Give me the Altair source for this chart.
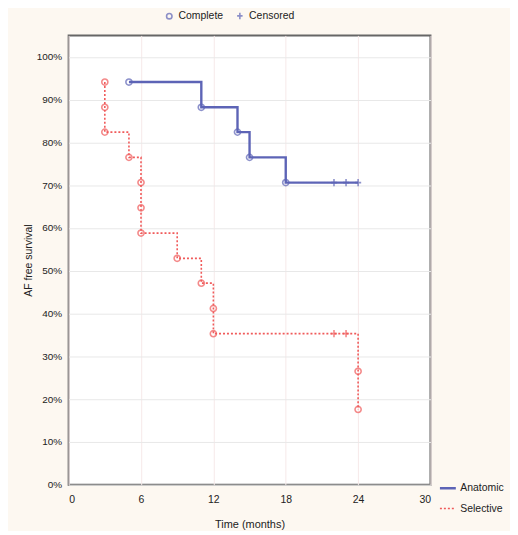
import altair as alt
import pandas as pd

# ---- data ----
groups = ["Anatomic", "Selective"]

anat_event_t = [5, 11, 14, 15, 18]
anat_event_s = [94.1, 88.2, 82.4, 76.5, 70.6]
anat_cens_t = [22, 23, 24]
anat_cens_s = [70.6, 70.6, 70.6]

sel_event_t = [3, 3, 3, 5, 6, 6, 6, 9, 11, 12, 12, 24, 24]
sel_event_s = [94.1, 88.2, 82.4, 76.5, 70.6, 64.7, 58.8, 52.9, 47.1, 41.2, 35.3, 26.5, 17.6]
sel_cens_t = [22, 23]
sel_cens_s = [35.3, 35.3]

x_ticks = [0, 6, 12, 18, 24, 30]
y_ticks = [0, 10, 20, 30, 40, 50, 60, 70, 80, 90, 100]

BLUE = "#5d64b6"
RED = "#f05a5a"
FONT = "Liberation Sans, Arial, sans-serif"

# ---- tables ----
line_rows = []
for i, (t, s) in enumerate(zip(anat_event_t + [anat_cens_t[-1]], anat_event_s + [anat_cens_s[-1]])):
    line_rows.append({"group": "Anatomic", "t": t, "s": s, "o": i})
for i, (t, s) in enumerate(zip(sel_event_t, sel_event_s)):
    line_rows.append({"group": "Selective", "t": t, "s": s, "o": i})
lines = pd.DataFrame(line_rows)

pt_rows = []
for t, s in zip(anat_event_t, anat_event_s):
    pt_rows.append({"group": "Anatomic", "t": t, "s": s, "type": "Complete"})
for t, s in zip(anat_cens_t, anat_cens_s):
    pt_rows.append({"group": "Anatomic", "t": t, "s": s, "type": "Censored"})
for t, s in zip(sel_event_t, sel_event_s):
    pt_rows.append({"group": "Selective", "t": t, "s": s, "type": "Complete"})
for t, s in zip(sel_cens_t, sel_cens_s):
    pt_rows.append({"group": "Selective", "t": t, "s": s, "type": "Censored"})
points = pd.DataFrame(pt_rows)

xenc = alt.X("t:Q", scale=alt.Scale(domain=[0, 30], nice=False),
             axis=alt.Axis(values=x_ticks, title="Time (months)", grid=True,
                           gridColor="#f6e9e9", ticks=False, domain=False,
                           labelPadding=10, titlePadding=14, labelFontSize=10.5,
                           titleFontSize=11))
yenc = alt.Y("s:Q", scale=alt.Scale(domain=[0, 105], nice=False),
             axis=alt.Axis(values=y_ticks, title="AF free survival", grid=True,
                           gridColor="#e8e8e8", ticks=False, domain=False,
                           labelExpr="datum.value + '%'", labelPadding=7,
                           titlePadding=3, labelFontSize=10, titleFontSize=10.5))

color_scale = alt.Scale(domain=groups, range=[BLUE, RED])

leg_common = dict(orient="none", legendX=372, legendY=446, title=None,
                  symbolType="stroke", symbolSize=256, labelFontSize=10.5,
                  rowPadding=6, labelOffset=3)

line_layer = alt.Chart(lines).mark_line(interpolate="step-after").encode(
    x=xenc, y=yenc, order="o:Q",
    color=alt.Color("group:N", scale=color_scale,
                    legend=alt.Legend(symbolStrokeWidth=1.5, **leg_common)),
    strokeDash=alt.StrokeDash("group:N", scale=alt.Scale(domain=groups, range=[[1, 0], [2, 2]]),
                              legend=alt.Legend(**leg_common)),
    strokeWidth=alt.StrokeWidth("group:N", scale=alt.Scale(domain=groups, range=[2.4, 1.6]),
                                legend=None),
)

plus = "M-1,0L1,0M0,-1.2L0,1.2"
point_layer = alt.Chart(points).mark_point(filled=False, strokeWidth=1.6, size=38).encode(
    x="t:Q", y="s:Q",
    color=alt.Color("group:N", scale=color_scale, legend=None),
    shape=alt.Shape("type:N", scale=alt.Scale(domain=["Complete", "Censored"], range=["circle", plus]),
                    legend=alt.Legend(orient="none", legendX=96, legendY=-25, direction="horizontal",
                                      title=None, symbolStrokeColor=BLUE, symbolFillColor="transparent",
                                      symbolStrokeWidth=1.6, symbolSize=30, labelFontSize=10.5,
                                      columnPadding=10)),
)

chart = alt.layer(line_layer, point_layer).properties(
    width=364, height=452,
    autosize=alt.AutoSizeParams(type="none"),
    padding={"left": 61, "top": 26, "right": 80, "bottom": 45},
    background="#fdf8f1",
).configure_view(
    fill="white", stroke="#666666", strokeWidth=2,
).configure_axis(
    labelFont=FONT, titleFont=FONT, labelColor="#222222", titleColor="#222222",
    titleFontWeight="normal",
).configure_legend(
    labelFont=FONT, labelColor="#222222",
)

chart.save("out.html", embed_options={"renderer": "svg", "actions": False})
